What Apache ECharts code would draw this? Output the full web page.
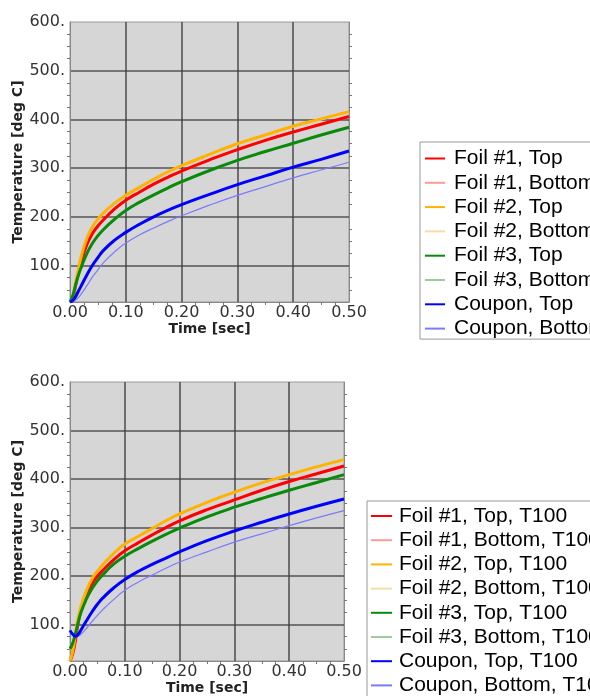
<!DOCTYPE html>
<html><head><meta charset="utf-8">
<script src="https://cdn.jsdelivr.net/npm/echarts@6/dist/echarts.min.js"></script>
<style>html,body{margin:0;padding:0;background:#fff}#c{width:590px;height:696px}</style>
</head><body><div id="c"></div>
<script>
// ---- data ----
const times = [0, 0.005, 0.01, 0.015, 0.02, 0.03, 0.04, 0.05, 0.06, 0.08, 0.1, 0.125, 0.15, 0.175, 0.2, 0.25, 0.3, 0.35, 0.4, 0.45, 0.5];
const xTicks = [0, 0.1, 0.2, 0.3, 0.4, 0.5];

// upper chart
const namesA = ['Foil #1, Top', 'Foil #1, Bottom', 'Foil #2, Top', 'Foil #2, Bottom', 'Foil #3, Top', 'Foil #3, Bottom', 'Coupon, Top', 'Coupon, Bottom'];
const a_f1t = [25,33,58,85,107,142,165,181,194,216,234,251,267,281,294,317,338,357,374,390,406];
const a_f1b = [25,32,56,83,105,140,163,179,192,214,232,249,265,279,292,315,336,355,372,388,404];
const a_f2t = [25,35,65,92,118,155,179,195,208,228,244,261,277,292,305,328,350,368,386,401,416];
const a_f2b = [25,34,63,90,116,153,177,193,206,226,242,259,275,290,303,326,348,366,384,399,414];
const a_f3t = [25,38,60,80,96,124,145,161,174,195,213,230,245,259,272,295,316,334,351,368,384];
const a_f3b = [25,37,58,78,94,122,143,159,172,193,211,228,243,257,270,293,314,332,349,366,382];
const a_ct  = [25,28,36,47,58,80,100,116,131,152,168,185,200,213,225,246,266,284,302,318,335];
const a_cb  = [25,26,29,34,41,58,76,91,106,128,146,163,177,190,202,224,244,262,280,296,312];

// lower chart
const namesB = ['Foil #1, Top, T100', 'Foil #1, Bottom, T100', 'Foil #2, Top, T100', 'Foil #2, Bottom, T100', 'Foil #3, Top, T100', 'Foil #3, Bottom, T100', 'Coupon, Top, T100', 'Coupon, Bottom, T100'];
const b_f1t = [25,40,68,105,130,160,184,200,212,234,252,269,285,300,314,337,357,377,395,411,427];
const b_f1b = [25,38,66,103,128,158,182,198,210,232,250,267,283,298,312,335,355,375,393,409,425];
const b_f2t = [25,45,80,115,138,170,194,210,224,247,266,282,298,314,328,352,373,392,409,425,440];
const b_f2b = [25,43,78,113,136,168,192,208,222,245,264,280,296,312,326,350,371,390,407,423,438];
const b_f3t = [50,62,82,105,125,153,174,190,203,225,241,257,272,286,299,322,342,360,377,393,409];
const b_f3b = [48,60,80,103,123,151,172,188,201,223,239,255,270,284,297,320,340,358,375,391,407];
const b_ct  = [88,80,76,80,89,108,126,142,155,176,193,210,224,237,250,273,293,311,328,344,359];
const b_cb  = [88,80,75,76,80,92,106,119,131,152,171,188,202,216,229,250,270,287,304,320,335];

const colors = ['#ff0000', '#ff9a9a', '#ffb300', '#f6dca8', '#0a8a0a', '#9ccc9c', '#0000ff', '#7a7aff'];
const widths = [3, 1.2, 3, 1.2, 3, 1.2, 3, 1.2];

// ---- build ----
const tickFont = { fontFamily: 'DejaVu Sans', fontSize: 16, color: '#333' };
const nameFont = { fontFamily: 'DejaVu Sans', fontSize: 14, fontWeight: 'bold', color: '#222' };
const gridLine = { color: '#3c3c3c', width: 1.6, opacity: 0.85 };
const minor = { show: true, splitNumber: 4, length: 3, lineStyle: { color: '#777' } };

function xAxisFor(gi, gap) {
  return {
    type: 'value', gridIndex: gi, min: 0, max: 0.5, interval: 0.1,
    name: 'Time [sec]', nameLocation: 'middle', nameGap: gap, nameTextStyle: nameFont,
    axisLine: { show: true, lineStyle: { color: '#888', width: 1 } },
    axisTick: { show: false }, minorTick: minor,
    axisLabel: Object.assign({ margin: 3, formatter: v => v.toFixed(2), customValues: xTicks }, tickFont),
    splitLine: { show: true, showMinLine: false, showMaxLine: false, lineStyle: gridLine }
  };
}
function yAxisFor(gi) {
  return {
    type: 'value', gridIndex: gi, min: 25, max: 600,
    name: 'Temperature [deg C]', nameLocation: 'middle', nameGap: 45, nameTextStyle: nameFont,
    axisLine: { show: true, lineStyle: { color: '#888', width: 1 } },
    axisTick: { show: false }, minorTick: minor,
    axisLabel: Object.assign({ margin: 5, formatter: v => (v % 100 === 0 ? v + '.' : '') }, tickFont),
    splitLine: { show: true, showMinLine: false, showMaxLine: false, lineStyle: gridLine }
  };
}
function yRightFor(gi) {
  return {
    type: 'value', gridIndex: gi, min: 25, max: 600, position: 'right',
    axisLine: { show: true, lineStyle: { color: '#888', width: 1 } },
    axisTick: { show: false }, axisLabel: { show: false }, splitLine: { show: false },
    minorTick: minor
  };
}

const setsA = [a_f1t, a_f1b, a_f2t, a_f2b, a_f3t, a_f3b, a_ct, a_cb];
const setsB = [b_f1t, b_f1b, b_f2t, b_f2b, b_f3t, b_f3b, b_ct, b_cb];
const series = [];
function addSeries(names, sets, xi, yi) {
  names.forEach((n, i) => {
    series.push({
      name: n, type: 'line', xAxisIndex: xi, yAxisIndex: yi,
      data: times.map((t, k) => [t, sets[i][k]]),
      symbol: 'none', smooth: 0.5,
      z: widths[i] > 2 ? 3 : 2,
      lineStyle: { color: colors[i], width: widths[i] },
      itemStyle: { color: colors[i] }
    });
  });
}
addSeries(namesA, setsA, 0, 0);
addSeries(namesB, setsB, 1, 1);

const legendText = { fontFamily: 'Liberation Sans', fontSize: 21, color: '#000', lineHeight: 21, padding: [0, 0, 0, 4] };

const option = {
  animation: false,
  backgroundColor: '#fff',
  grid: [
    { left: 70, top: 22, width: 279, height: 280, show: true, backgroundColor: '#d6d6d6', borderColor: '#999', borderWidth: 1 },
    { left: 70, top: 382, width: 274, height: 279, show: true, backgroundColor: '#d6d6d6', borderColor: '#999', borderWidth: 1 }
  ],
  xAxis: [xAxisFor(0, 18), xAxisFor(1, 19)],
  yAxis: [yAxisFor(0), yAxisFor(1), yRightFor(0), yRightFor(1)],
  legend: [
    { data: namesA, orient: 'vertical', left: 420, top: 142, height: 220, itemWidth: 20, itemHeight: 12, itemGap: 3.3,
      padding: [6, 6, 0, 4], borderColor: '#999', borderWidth: 1, backgroundColor: '#fff',
      itemStyle: { opacity: 0 }, selectedMode: false, textStyle: legendText },
    { data: namesB, orient: 'vertical', left: 367, top: 501, height: 220, itemWidth: 21, itemHeight: 12, itemGap: 3.2,
      padding: [4.5, 6, 4, 3], borderColor: '#999', borderWidth: 1, backgroundColor: '#fff',
      itemStyle: { opacity: 0 }, selectedMode: false, textStyle: Object.assign({}, legendText, { padding: [0, 0, 0, 2] }) }
  ],
  series: series
};
echarts.init(document.getElementById('c'), null, { renderer: 'canvas' }).setOption(option);
</script>
</body></html>
